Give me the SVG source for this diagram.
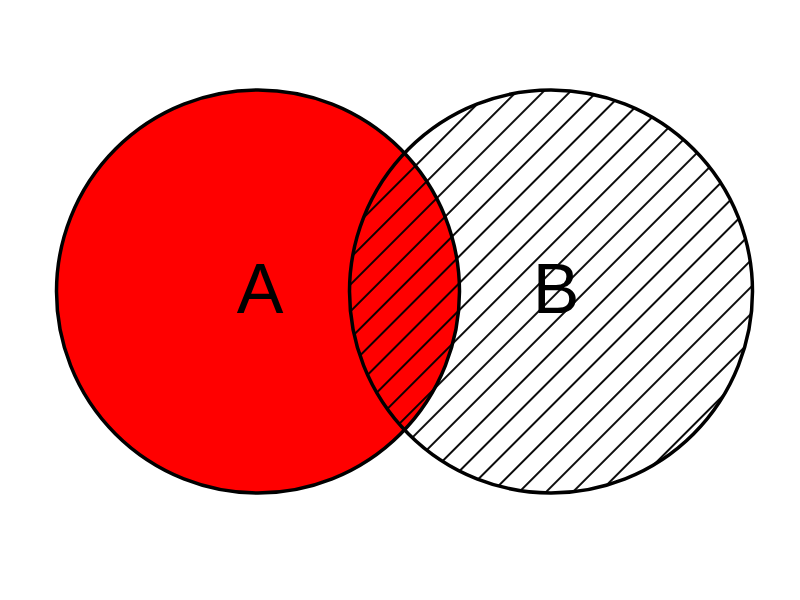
<svg xmlns="http://www.w3.org/2000/svg" width="800" height="600" viewBox="0 0 800 600">
<defs>
<pattern id="hatch" patternUnits="userSpaceOnUse" width="19" height="19" patternTransform="rotate(45)">
<line x1="12" y1="-1" x2="12" y2="20" stroke="#000" stroke-width="1.9"/>
</pattern>
</defs>
<style>
.c{stroke:#000;stroke-width:3.5}
.t{font-family:"Liberation Sans",Arial,sans-serif;font-size:70px;text-anchor:middle;fill:#000}
</style>
<rect width="800" height="600" fill="#fff"/>
<g id="A">
<circle class="c" cx="258" cy="291.5" r="201.5" fill="#ff0000"/>
<text class="t" x="260" y="313">A</text>
</g>
<g id="B">
<circle class="c" cx="551" cy="291.5" r="201.5" fill="url(#hatch)"/>
<text class="t" x="556" y="313">B</text>
</g>
<g id="connectors"/>
</svg>
